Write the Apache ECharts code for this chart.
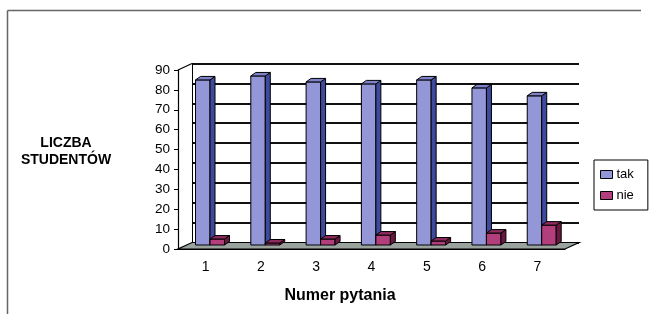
<!DOCTYPE html>
<html>
<head>
<meta charset="utf-8">
<script src="https://cdn.jsdelivr.net/npm/echarts@6/dist/echarts.min.js"></script>
<style>
  html, body { margin: 0; padding: 0; background: #fff; }
  #chart { width: 652px; height: 314px; }
</style>
</head>
<body>
<div id="chart"></div>
<script>
var categories = ['1', '2', '3', '4', '5', '6', '7'];
var takValues = [83, 85, 82, 81, 83, 79, 75];
var nieValues = [3, 1, 3, 5, 2, 6, 10];
var yMax = 90;
var yStep = 10;

var FONT = '"Liberation Sans", Arial, sans-serif';
// 3d look: back wall offset and bar depth
var WALL_DX = 14, WALL_DY = -6.5;

function barRenderer(slot, colors) {
    return function (params, api) {
        var idx = api.value(0), val = api.value(1);
        var base = api.coord([idx, 0]);
        var top = api.coord([idx, val]);
        var band = api.size([1, 0])[0];
        var w = band * 0.262;
        var x0 = base[0] - band / 2 + band * 0.317 + slot * w;
        var yb = base[1] - 4, yt = top[1] - 4;
        var dx = 5, dy = -3.5;
        var st = { stroke: '#000', lineWidth: 1 };
        return {
            type: 'group',
            children: [
                { type: 'polygon', shape: { points: [[x0, yb], [x0 + w, yb], [x0 + w, yt], [x0, yt]] },
                  style: Object.assign({ fill: colors.front }, st) },
                { type: 'polygon', shape: { points: [[x0 + w, yb], [x0 + w + dx, yb + dy], [x0 + w + dx, yt + dy], [x0 + w, yt]] },
                  style: Object.assign({ fill: colors.side }, st) },
                { type: 'polygon', shape: { points: [[x0, yt], [x0 + w, yt], [x0 + w + dx, yt + dy], [x0 + dx, yt + dy]] },
                  style: Object.assign({ fill: colors.top }, st) }
            ]
        };
    };
}

function wallsRenderer(params, api) {
    var n = categories.length;
    var first = api.coord([0, 0]);
    var last = api.coord([n - 1, 0]);
    var topL = api.coord([0, yMax]);
    var band = api.size([1, 0])[0];
    var xl = first[0] - band / 2, xr = last[0] + band / 2;
    var y0 = first[1], yt = topL[1];
    return {
        type: 'group',
        children: [
            { type: 'polygon',
              shape: { points: [[xl, y0], [xr, y0], [xr + WALL_DX, y0 + WALL_DY], [xl + WALL_DX, y0 + WALL_DY]] },
              style: { fill: '#9ba39e', stroke: '#000', lineWidth: 1.2 } },
            { type: 'line', shape: { x1: xl, y1: yt, x2: xl + WALL_DX, y2: yt + WALL_DY },
              style: { stroke: '#000', lineWidth: 1.2 } }
        ]
    };
}

var chart = echarts.init(document.getElementById('chart'));
chart.setOption({
    animation: false,
    textStyle: { fontFamily: FONT, color: '#000' },
    grid: [
        { left: 178, top: 70, width: 387, height: 179 },
        { left: 178 + WALL_DX, top: 70 + WALL_DY, width: 387, height: 179 }
    ],
    xAxis: [
        {
            type: 'category', gridIndex: 0, data: categories,
            axisLine: { lineStyle: { color: '#000', width: 1.2 } },
            axisTick: { length: 4, lineStyle: { color: '#000' } },
            axisLabel: { fontSize: 14, color: '#000', margin: 11, fontFamily: FONT }
        },
        { type: 'value', gridIndex: 1, min: 0, max: 1, show: false }
    ],
    yAxis: [
        {
            type: 'value', gridIndex: 0, min: 0, max: yMax, interval: yStep,
            axisLine: { show: true, lineStyle: { color: '#000', width: 1.2 } },
            axisTick: { show: true, length: 4, lineStyle: { color: '#000' } },
            axisLabel: { fontSize: 13.5, color: '#000', margin: 8, fontFamily: FONT },
            splitLine: { show: false }
        },
        {
            type: 'value', gridIndex: 1, min: 0, max: yMax, interval: yStep,
            axisLine: { show: true, lineStyle: { color: '#000', width: 1 } },
            axisTick: { show: false },
            axisLabel: { show: false },
            splitLine: { show: true, lineStyle: { color: '#111', width: 1.8 } }
        }
    ],
    legend: {
        data: ['tak', 'nie'],
        orient: 'vertical',
        left: 594, top: 160,
        padding: [8, 14, 8, 6],
        itemGap: 8,
        itemWidth: 12, itemHeight: 8,
        icon: 'rect',
        borderColor: '#000', borderWidth: 1,
        itemStyle: { borderColor: '#000', borderWidth: 1 },
        textStyle: { fontSize: 13, color: '#000', fontFamily: FONT, padding: [0, 0, 0, -1] }
    },
    graphic: [
        { type: 'line', shape: { x1: 7.5, y1: 10.5, x2: 641, y2: 10.5 }, style: { stroke: '#666', lineWidth: 1.5 } },
        { type: 'line', shape: { x1: 7.5, y1: 10.5, x2: 7.5, y2: 314 }, style: { stroke: '#666', lineWidth: 1.5 } },
        { type: 'text', x: 66, y: 152,
          style: { text: 'LICZBA\nSTUDENTÓW', font: 'bold 14px ' + FONT, fill: '#000',
                   align: 'center', verticalAlign: 'middle', lineHeight: 17 } },
        { type: 'text', x: 340, y: 296,
          style: { text: 'Numer pytania', font: 'bold 16px ' + FONT, fill: '#000',
                   align: 'center', verticalAlign: 'middle' } }
    ],
    series: [
        {
            name: 'walls', type: 'custom', xAxisIndex: 0, yAxisIndex: 0, z: 1,
            renderItem: wallsRenderer, data: [[0, 0]], silent: true
        },
        {
            name: 'tak', type: 'custom', xAxisIndex: 0, yAxisIndex: 0, z: 3,
            itemStyle: { color: '#9397d8' },
            encode: { x: 0, y: 1 },
            renderItem: barRenderer(0, { front: '#9397d8', side: '#3e4a9c', top: '#7d82c9' }),
            data: takValues.map(function (v, i) { return [i, v]; })
        },
        {
            name: 'nie', type: 'custom', xAxisIndex: 0, yAxisIndex: 0, z: 4,
            itemStyle: { color: '#b23e7c' },
            encode: { x: 0, y: 1 },
            renderItem: barRenderer(1, { front: '#b23e7c', side: '#6a1741', top: '#8e2a5d' }),
            data: nieValues.map(function (v, i) { return [i, v]; })
        }
    ]
});
</script>
</body>
</html>
